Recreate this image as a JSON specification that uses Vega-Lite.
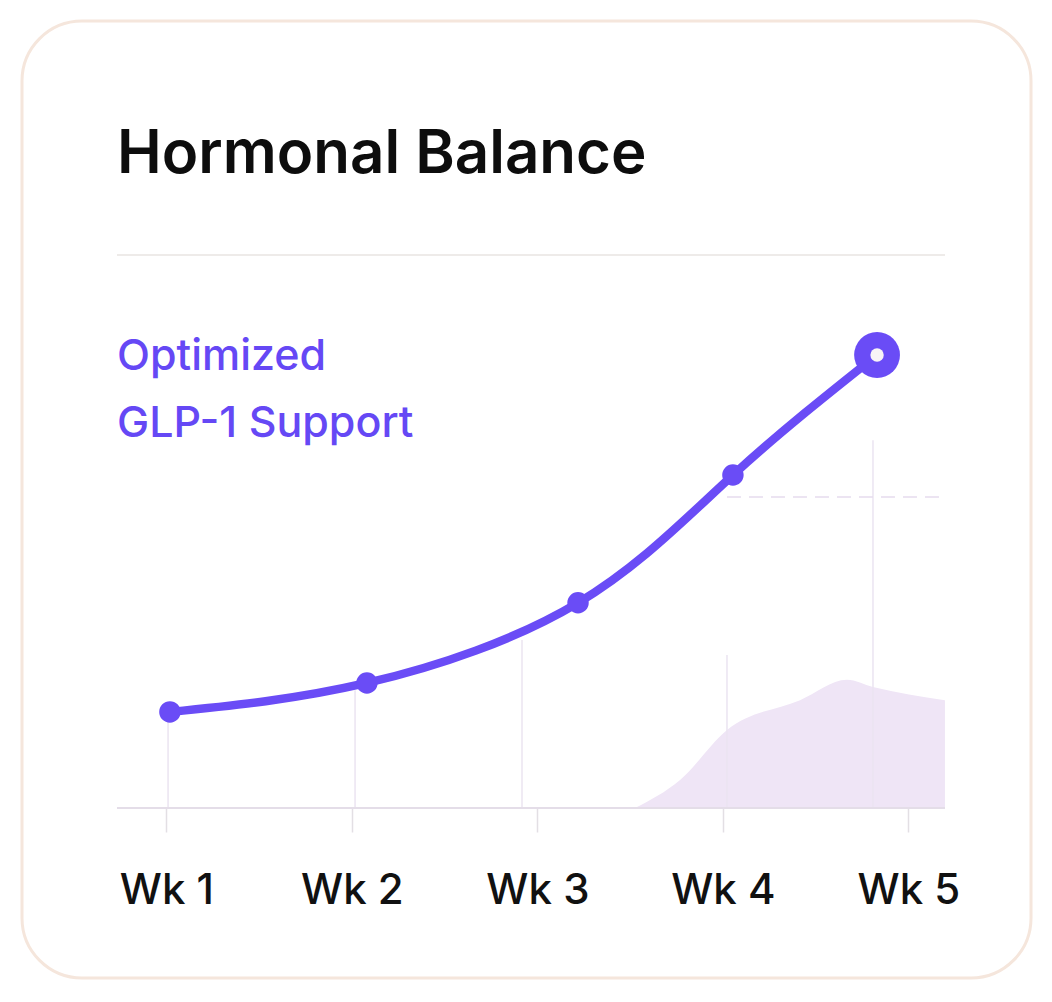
{
  "$schema": "https://vega.github.io/schema/vega-lite/v6.json",
  "width": 1009,
  "height": 957,
  "padding": {"left": 22, "top": 21, "right": 21, "bottom": 24},
  "autosize": "none",
  "background": "#ffffff",
  "config": {
    "view": {"stroke": "#f5e6dc", "strokeWidth": 3, "cornerRadius": 60, "fill": "#ffffff"}
  },
  "data": {
    "values": [
      {"series": "balance", "week": "Wk 1", "pos": 1.019, "score": 21.2},
      {"series": "balance", "week": "Wk 2", "pos": 2.081, "score": 27.6},
      {"series": "balance", "week": "Wk 3", "pos": 3.219, "score": 45.3},
      {"series": "balance", "week": "Wk 4", "pos": 4.054, "score": 73.5},
      {"series": "balance", "week": "Wk 5", "pos": 4.831, "score": 100},
      {"series": "glow", "pos": 3.526, "score": 0},
      {"series": "glow", "pos": 3.769, "score": 6.2},
      {"series": "glow", "pos": 4.022, "score": 17.2},
      {"series": "glow", "pos": 4.416, "score": 23.8},
      {"series": "glow", "pos": 4.669, "score": 28.3},
      {"series": "glow", "pos": 4.809, "score": 26.7},
      {"series": "glow", "pos": 5.197, "score": 23.8},
      {"series": "grid", "pos": 1.009, "score": 19.4},
      {"series": "grid", "pos": 2.017, "score": 26.0},
      {"series": "grid", "pos": 2.917, "score": 37.1},
      {"series": "grid", "pos": 4.022, "score": 33.8},
      {"series": "grid", "pos": 4.809, "score": 81.2}
    ]
  },
  "encoding": {
    "x": {
      "field": "pos",
      "type": "quantitative",
      "scale": {"domain": [0.2216, 5.6609], "nice": false, "zero": false},
      "axis": {
        "orient": "bottom",
        "offset": -170,
        "values": [1, 2, 3, 4, 5],
        "labelExpr": "'Wk ' + datum.value",
        "domain": false,
        "grid": false,
        "tickSize": 24,
        "tickColor": "#e3dfe4",
        "tickWidth": 1.5,
        "labelFont": "Inter",
        "labelFontSize": 42,
        "labelFontWeight": 500,
        "labelColor": "#111111",
        "labelBaseline": "alphabetic",
        "labelPadding": 71,
        "title": null
      }
    },
    "y": {
      "field": "score",
      "type": "quantitative",
      "scale": {"domain": [-37.53, 173.73], "nice": false, "zero": false},
      "axis": null
    }
  },
  "layer": [
    {
      "transform": [{"filter": "datum.series == 'glow'"}],
      "mark": {"type": "area", "interpolate": "monotone", "color": "#efe5f6"}
    },
    {
      "transform": [{"filter": "datum.series == 'grid'"}],
      "mark": {"type": "rule", "color": "#ebe4f1", "strokeWidth": 1.5},
      "encoding": {"y2": {"datum": 0}}
    },
    {
      "transform": [{"filter": "datum.series == 'balance' && datum.week == 'Wk 1'"}],
      "mark": {"type": "rule", "color": "#e4dde8", "strokeWidth": 2},
      "encoding": {
        "x": {"datum": 0.7337, "type": "quantitative"},
        "x2": {"datum": 5.1973},
        "y": {"datum": 0, "type": "quantitative"}
      }
    },
    {
      "transform": [{"filter": "datum.series == 'balance' && datum.week == 'Wk 1'"}],
      "mark": {"type": "rule", "color": "#e6dcee", "strokeWidth": 1.5, "strokeDash": [14, 8]},
      "encoding": {
        "x": {"datum": 4.022, "type": "quantitative"},
        "x2": {"datum": 5.1973},
        "y": {"datum": 68.65, "type": "quantitative"}
      }
    },
    {
      "transform": [{"filter": "datum.series == 'balance' && datum.week == 'Wk 1'"}],
      "mark": {"type": "rule", "color": "#e8e5e2", "strokeWidth": 1.5},
      "encoding": {
        "x": {"datum": 0.7337, "type": "quantitative"},
        "x2": {"datum": 5.1973},
        "y": {"datum": 122.1, "type": "quantitative"}
      }
    },
    {
      "transform": [{"filter": "datum.series == 'balance'"}],
      "mark": {"type": "line", "interpolate": "natural", "color": "#6a4cf6", "strokeWidth": 8.5, "strokeCap": "round"}
    },
    {
      "transform": [{"filter": "datum.series == 'balance' && datum.week != 'Wk 5'"}],
      "mark": {"type": "circle", "size": 460, "color": "#6a4cf6", "opacity": 1}
    },
    {
      "transform": [{"filter": "datum.series == 'balance' && datum.week == 'Wk 5'"}],
      "mark": {"type": "circle", "size": 2100, "color": "#6a4cf6", "opacity": 1}
    },
    {
      "transform": [{"filter": "datum.series == 'balance' && datum.week == 'Wk 5'"}],
      "mark": {"type": "circle", "size": 180, "color": "#f8f3f6", "opacity": 1}
    },
    {
      "transform": [{"filter": "datum.series == 'balance' && datum.week == 'Wk 1'"}],
      "mark": {"type": "text", "text": "Hormonal Balance", "font": "Inter", "fontSize": 60, "fontWeight": 600, "color": "#0d0d0d", "align": "left", "baseline": "alphabetic"},
      "encoding": {
        "x": {"datum": 0.7337, "type": "quantitative"},
        "y": {"datum": 140.2, "type": "quantitative"}
      }
    },
    {
      "transform": [{"filter": "datum.series == 'balance' && datum.week == 'Wk 1'"}],
      "mark": {"type": "text", "text": "Optimized", "font": "Inter", "fontSize": 43, "fontWeight": 500, "color": "#6548f5", "align": "left", "baseline": "alphabetic"},
      "encoding": {
        "x": {"datum": 0.7337, "type": "quantitative"},
        "y": {"datum": 96.7, "type": "quantitative"}
      }
    },
    {
      "transform": [{"filter": "datum.series == 'balance' && datum.week == 'Wk 1'"}],
      "mark": {"type": "text", "text": "GLP-1 Support", "font": "Inter", "fontSize": 43, "fontWeight": 500, "color": "#6548f5", "align": "left", "baseline": "alphabetic"},
      "encoding": {
        "x": {"datum": 0.7337, "type": "quantitative"},
        "y": {"datum": 81.9, "type": "quantitative"}
      }
    }
  ]
}
